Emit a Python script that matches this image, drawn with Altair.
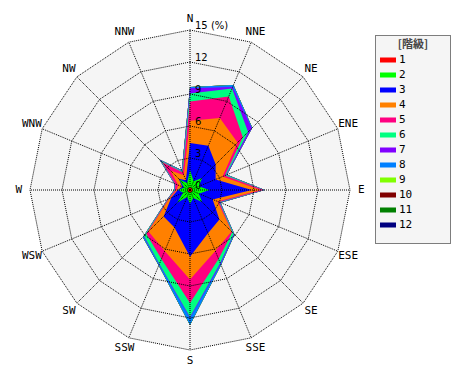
import altair as alt
import pandas as pd

directions = ["N", "NNE", "NE", "ENE", "E", "ESE", "SE", "SSE",
              "S", "SSW", "SW", "WSW", "W", "WNW", "NW", "NNW"]
classes = ["1", "2", "3", "4", "5", "6", "7", "8", "9", "10", "11", "12"]
class_colors = ["#ff0000", "#00ff00", "#0000ff", "#ff8000", "#ff0080", "#00ff80",
                "#8000ff", "#0080ff", "#80ff00", "#800000", "#008000", "#000080"]
legend_title = "[階級]"

# frequency (%) of each class per direction (N, NNE, ... NNW)
class1 = [0.25, 0.2, 0.2, 0.2, 0.25, 0.2, 0.2, 0.2, 0.25, 0.2, 0.2, 0.2, 0.2, 0.15, 0.2, 0.2]
class2 = [1.6, 0.7, 1.4, 0.7, 1.55, 0.7, 1.4, 0.6, 1.05, 0.5, 1.5, 0.5, 0.9, 0.45, 1.2, 0.5]
class3 = [2.55, 3.6, 1.8, 1.7, 4.0, 1.4, 2.3, 3.6, 4.95, 3.1, 1.8, 1.2, 0.05, 0.2, 0.1, 0.3]
class4 = [2.1, 2.8, 2.9, 0.7, 0.8, 0.5, 1.6, 1.8, 2.15, 2.4, 2.0, 0.2, 0.1, 0.4, 1.1, 0.5]
class5 = [1.8, 2.2, 0.7, 0.25, 0.3, 0.15, 0.1, 0.8, 2.2, 0.8, 0.3, 0.1, 0.15, 0.3, 1.1, 0.3]
class6 = [0.75, 0.8, 0.7, 0.1, 0.05, 0.05, 0.2, 0.4, 1.3, 0.5, 0.3, 0.05, 0.05, 0.05, 0.2, 0.1]
class7 = [0.5, 0.15, 0.5, 0.05, 0.05, 0.05, 0.05, 0.1, 0.1, 0.05, 0.05, 0.05, 0.02, 0.05, 0.1, 0.05]
class8 = [0.1, 0.2, 0.05, 0.05, 0.0, 0.05, 0.05, 0.1, 0.65, 0.1, 0.1, 0.0, 0.03, 0.0, 0.05, 0.05]
class9 = [0, 0, 0, 0, 0, 0, 0, 0, 0, 0, 0, 0, 0, 0, 0, 0]
class10 = [0, 0, 0, 0, 0, 0, 0, 0, 0, 0, 0, 0, 0, 0, 0, 0]
class11 = [0, 0, 0, 0, 0, 0, 0, 0, 0, 0, 0, 0, 0, 0, 0, 0]
class12 = [0, 0, 0, 0, 0, 0, 0, 0, 0, 0, 0, 0, 0, 0, 0, 0]

ring_values = [0, 3, 6, 9, 12, 15]
ring_labels = ["0", "3", "6", "9", "12", "15 (%)"]

series = [class1, class2, class3, class4, class5, class6,
          class7, class8, class9, class10, class11, class12]

rows = []
for k, (c, vals) in enumerate(zip(classes, series), start=1):
    for i, (d, v) in enumerate(zip(directions, vals)):
        rows.append({"dir": d, "idx": i, "cls": c, "k": k, "v": v})
df = pd.DataFrame(rows)

ring_rows = []
for rv in ring_values[1:]:
    for i in range(len(directions)):
        ring_rows.append({"ring": rv, "idx": i})
rings_df = pd.DataFrame(ring_rows)
dirs_df = pd.DataFrame({"dir": directions, "idx": list(range(len(directions)))})
labels_df = pd.DataFrame({"ring": ring_values, "label": ring_labels})

R = 15
xs = alt.Scale(domain=[-17.0625, 25.5], nice=False, zero=False)
ys = alt.Scale(domain=[-17.0625, 17.0625], nice=False, zero=False)

fill_scale = alt.Scale(domain=classes, range=class_colors)
legend = alt.Legend(
    title=None, orient="none", legendX=374, legendY=46,
    symbolType="M-1.333,-0.417H1.333V0.417H-1.333Z", symbolSize=144,
    symbolStrokeWidth=0, symbolOpacity=1, labelOffset=5,
    labelFont="DejaVu Sans Mono", labelFontSize=11, labelColor="black",
    rowPadding=4, padding=0,
)

base = alt.Chart(df).transform_window(
    r="sum(v)", groupby=["idx"], sort=[alt.SortField("k")], frame=[None, 0]
).transform_calculate(
    a="datum.idx * PI / 8",
).transform_calculate(
    x="datum.r * sin(datum.a)", y="datum.r * cos(datum.a)"
)

layers = []

one = pd.DataFrame({"o": [0]})

# legend box (decoration)
box = alt.Chart(one).mark_rect(
    fill="#f5f5f5", stroke="black", strokeWidth=1, strokeDash=[1, 1]
).encode(
    x=alt.value(367.5), x2=alt.value(442.5), y=alt.value(27.5), y2=alt.value(235.5)
)
layers.append(box)
box_title = alt.Chart(one).mark_text(
    font="Noto Sans CJK JP", fontSize=11, fontWeight="bold", color="#444444",
    align="center", baseline="middle"
).encode(x=alt.value(405), y=alt.value(37), text=alt.value(legend_title))
layers.append(box_title)

# plot background polygon
bg = alt.Chart(rings_df).transform_filter(f"datum.ring == {R}").transform_calculate(
    a="datum.idx * PI / 8"
).transform_calculate(
    x="datum.ring * sin(datum.a)", y="datum.ring * cos(datum.a)"
).mark_line(interpolate="linear-closed", fill="#f5f5f5", strokeWidth=0).encode(
    x=alt.X("x:Q", scale=xs, axis=None),
    y=alt.Y("y:Q", scale=ys, axis=None),
    order="idx:Q",
)
layers.append(bg)

for k in range(12, 0, -1):
    layers.append(
        base.transform_filter(f"datum.k == {k}")
        .mark_line(interpolate="linear-closed", strokeWidth=0)
        .encode(
            x=alt.X("x:Q", scale=xs, axis=None),
            y=alt.Y("y:Q", scale=ys, axis=None),
            order="idx:Q",
            fill=alt.Fill("cls:N", scale=fill_scale, legend=legend),
        )
    )

rings = alt.Chart(rings_df).transform_calculate(
    a="datum.idx * PI / 8"
).transform_calculate(
    x="datum.ring * sin(datum.a)", y="datum.ring * cos(datum.a)"
).mark_line(interpolate="linear-closed", stroke="black", strokeWidth=1,
            strokeDash=[1, 1]).encode(
    x=alt.X("x:Q", scale=xs, axis=None),
    y=alt.Y("y:Q", scale=ys, axis=None),
    detail="ring:N",
    order="idx:Q",
)
layers.append(rings)

spokes = alt.Chart(dirs_df).transform_calculate(
    a="datum.idx * PI / 8", z="0"
).transform_calculate(
    ex=f"{R} * sin(datum.a)", ey=f"{R} * cos(datum.a)"
).mark_rule(stroke="black", strokeWidth=1, strokeDash=[1, 1]).encode(
    x=alt.X("z:Q", scale=xs, axis=None),
    y=alt.Y("z:Q", scale=ys, axis=None),
    x2="ex:Q", y2="ey:Q",
)
layers.append(spokes)

dir_text = alt.Chart(dirs_df).transform_calculate(
    a="datum.idx * PI / 8"
).transform_calculate(
    lx="16.05 * sin(datum.a)", ly="16.05 * cos(datum.a)"
).mark_text(font="DejaVu Sans Mono", fontSize=11, color="black",
            align="center", baseline="middle").encode(
    x=alt.X("lx:Q", scale=xs, axis=None),
    y=alt.Y("ly:Q", scale=ys, axis=None),
    text="dir:N",
)
layers.append(dir_text)

ring_text = alt.Chart(labels_df).transform_calculate(z="0").mark_text(
    font="DejaVu Sans", fontSize=10, color="black", align="left",
    baseline="bottom", dx=5, dy=1,
).encode(
    x=alt.X("z:Q", scale=xs, axis=None),
    y=alt.Y("ring:Q", scale=ys, axis=None),
    text="label:N",
)
layers.append(ring_text)

chart = alt.layer(*layers).properties(
    width=454, height=364, padding=0,
    autosize=alt.AutoSizeParams(type="none"),
    background="white",
).configure_view(strokeWidth=0)

chart.save("out.html", embed_options={"renderer": "svg", "actions": False})
